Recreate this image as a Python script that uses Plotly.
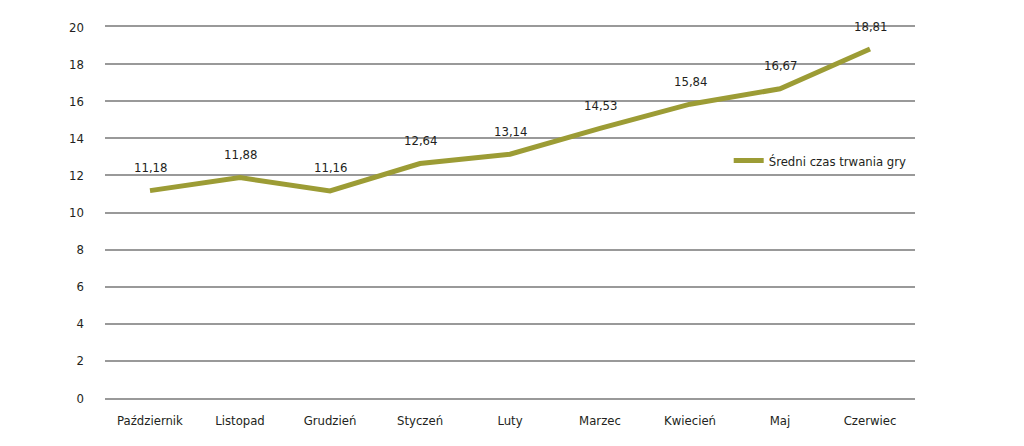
import plotly.graph_objects as go

months = ["Październik", "Listopad", "Grudzień", "Styczeń", "Luty", "Marzec", "Kwiecień", "Maj", "Czerwiec"]
values = [11.18, 11.88, 11.16, 12.64, 13.14, 14.53, 15.84, 16.67, 18.81]
series_name = "Średni czas trwania gry"
y_ticks = [0, 2, 4, 6, 8, 10, 12, 14, 16, 18, 20]

labels = [f"{v:.2f}".replace(".", ",") for v in values]
FONT = "DejaVu Sans Condensed, Liberation Sans Narrow, sans-serif"
TXT = "#231f20"
GRID = "#999999"

fig = go.Figure()
fig.add_trace(go.Scatter(
    x=months, y=values, mode="lines", name=series_name,
    line=dict(color="#9c9c35", width=5),
))
for m, v, t in zip(months, values, labels):
    fig.add_annotation(x=m, y=v, text=t, showarrow=False, yshift=23,
                       font=dict(family=FONT, size=13, color=TXT))
fig.update_layout(
    width=1024, height=446,
    margin=dict(l=97, r=117, t=19, b=56),
    paper_bgcolor="white", plot_bgcolor="white",
    font=dict(family=FONT, size=13, color=TXT),
    showlegend=True,
    legend=dict(x=0.77, y=0.64, xanchor="left", yanchor="middle",
                bgcolor="rgba(0,0,0,0)", font=dict(size=13)),
    xaxis=dict(range=[-0.5, len(months) - 0.5], showgrid=False, showline=True, mirror=True,
               linecolor=GRID, linewidth=1.5,
               zeroline=False, ticks="",
               tickfont=dict(size=13), ticklabelstandoff=10, automargin=False),
    yaxis=dict(range=[0, 20], tickvals=y_ticks, showgrid=True, gridcolor=GRID,
               gridwidth=1.5, zeroline=False, showline=False, ticks="",
               tickfont=dict(size=13), ticklabelstandoff=20, automargin=False),
)
fig.write_html("out.html")
